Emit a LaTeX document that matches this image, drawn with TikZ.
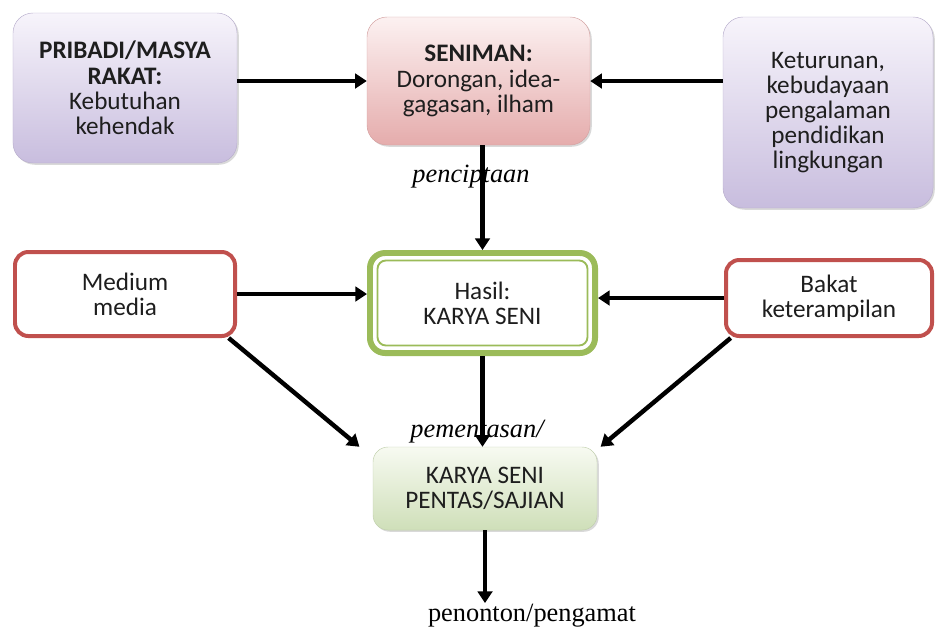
\documentclass[tikz,border=0pt]{standalone}
\usepackage{fontspec}
\setmainfont{Carlito}
\newfontfamily\labelfont{Liberation Serif}
\usetikzlibrary{positioning,arrows.meta,shadows}
\definecolor{boxtext}{RGB}{30,30,30}
\definecolor{lilactop}{RGB}{247,244,251}
\definecolor{lilacbot}{RGB}{200,189,222}
\definecolor{lilacedge}{RGB}{185,175,205}
\definecolor{rosetop}{RGB}{252,241,241}
\definecolor{rosebot}{RGB}{229,172,172}
\definecolor{roseedge}{RGB}{212,162,162}
\definecolor{minttop}{RGB}{247,250,241}
\definecolor{mintbot}{RGB}{207,223,185}
\definecolor{mintedge}{RGB}{192,207,172}
\definecolor{brickred}{RGB}{192,80,77}
\definecolor{leafgreen}{RGB}{155,187,89}

\begin{document}
\begin{tikzpicture}[x=0.03cm,y=-0.03cm,
  block/.style={rectangle,rounded corners=0.6cm,align=center,text=boxtext,
    font=\fontsize{21.5}{21.5}\selectfont,inner sep=2pt},
  softbox/.style={block,drop shadow={opacity=0.3,shadow xshift=1.5pt,shadow yshift=-1.5pt}},
  lilac/.style={softbox,draw=lilacedge,top color=lilactop,bottom color=lilacbot},
  rose/.style={softbox,draw=roseedge,top color=rosetop,bottom color=rosebot},
  mint/.style={softbox,draw=mintedge,top color=minttop,bottom color=mintbot,rounded corners=0.45cm},
  framed/.style={block,rounded corners=0.4cm,draw=brickred,line width=3.4pt,fill=white},
  arr/.style={-{Triangle[length=10pt,width=12.5pt]},line width=3.8pt},
  lbl/.style={font=\labelfont\fontsize{22.5}{24}\selectfont,inner sep=1pt}
]
\useasboundingbox (0,0) rectangle (935,630);

% Top row: sources
\node[lilac,minimum width=6.72cm,minimum height=4.5cm] (pribadi) at (125,88)
  {\textbf{PRIBADI/MASYA}\\\textbf{RAKAT:}\\Kebutuhan\\kehendak};
\node[rose,minimum width=6.69cm,minimum height=3.84cm] (seniman) at (478.5,81)
  {\textbf{SENIMAN:}\\Dorongan, idea-\\gagasan, ilham};
\node[lilac,minimum width=6.3cm,minimum height=5.73cm] (keturunan) at (828,112.5)
  {Keturunan,\\kebudayaan\\pengalaman\\pendidikan\\lingkungan};

% Middle row: the work
\node[framed,minimum width=6.6cm,minimum height=2.52cm] (medium) at (125,294) {Medium\\media};
\node[block,rounded corners=0.45cm,draw=leafgreen,line width=5.1pt,fill=white,
  minimum width=6.75cm,minimum height=3cm] (hasil) at (482.5,303) {Hasil:\\KARYA SENI};
\draw[leafgreen,line width=1.6pt,rounded corners=0.25cm]
  ([shift={(10.5,10.5)}]hasil.north west) rectangle ([shift={(-10.5,-10.5)}]hasil.south east);
\node[framed,minimum width=6.18cm,minimum height=2.28cm] (bakat) at (829,298) {Bakat\\keterampilan};

% Bottom: staging and audience
\node[mint,minimum width=6.72cm,minimum height=2.49cm] (pentas) at (485,488.5)
  {KARYA SENI\\PENTAS/SAJIAN};
\node[lbl] (penonton) at (532,616) {penonton/pengamat};

% Labels on the vertical flow
\node[lbl,font=\labelfont\itshape\fontsize{22.5}{24}\selectfont] (cipta) at (471,177) {penciptaan};
\node[lbl,font=\labelfont\itshape\fontsize{22.5}{24}\selectfont] (pentaslbl) at (477,432) {pementasan/};

% Arrows
\draw[arr] (pribadi.east |- seniman.west) -- (seniman.west);
\draw[arr] (keturunan.west |- seniman.east) -- (seniman.east);
\draw[arr] (hasil.north |- seniman.south) -- (hasil.north);
\draw[arr] (medium.east) -- (medium.east -| hasil.west);
\draw[arr] (bakat.west) -- (bakat.west -| hasil.east);
\draw[arr] ([xshift=-0.25cm]medium.south east) -- ([xshift=-0.4cm]pentas.north west);
\draw[arr] ([xshift=0.2cm]bakat.south west) -- ([xshift=0.1cm]pentas.north east);
\draw[arr] (hasil.south) -- (hasil.south |- pentas.north);
\draw[arr] (pentas.south) -- (pentas.south |- penonton.north);

\end{tikzpicture}
\end{document}
